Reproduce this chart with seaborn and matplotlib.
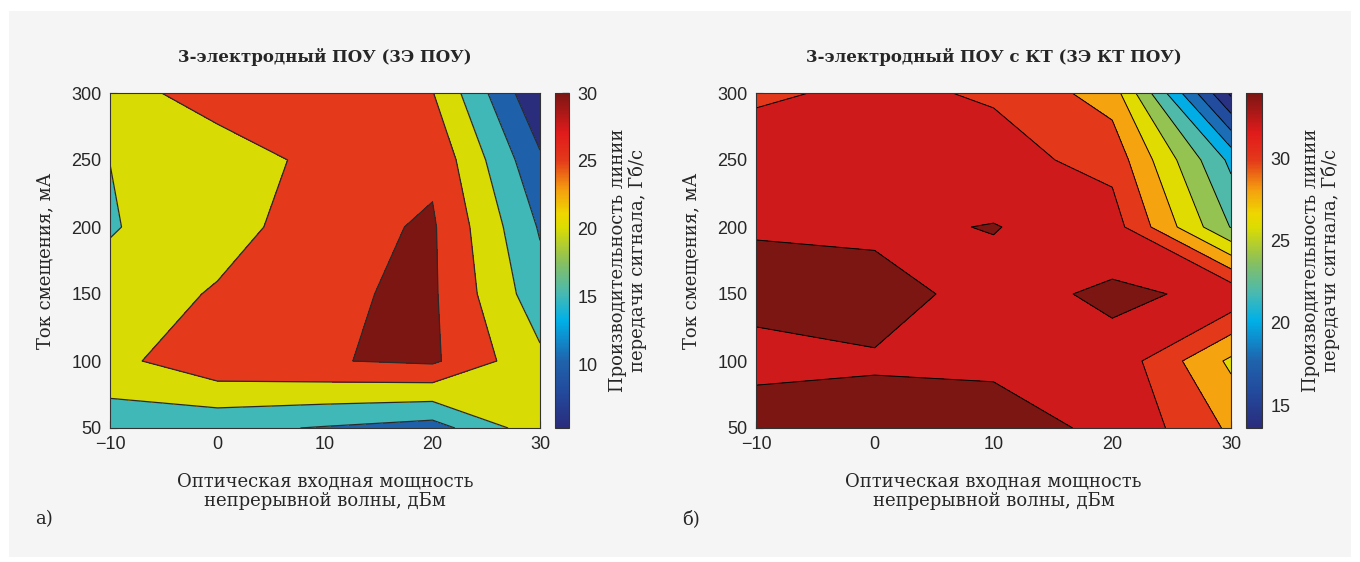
import numpy as np
import matplotlib
matplotlib.use("Agg")
import matplotlib.pyplot as plt
import seaborn as sns
from matplotlib.colors import LinearSegmentedColormap, Normalize
from matplotlib.cm import ScalarMappable
from matplotlib.patches import Rectangle

# grid: optical CW input power (dBm) x bias current (mA)
power_dbm = [-10, 0, 10, 20, 30]
bias_ma = [50, 100, 150, 200, 250, 300]

# line rate, Gb/s (rows = bias current 50..300, cols = power -10..30)
rate_3e = [
    [17.3, 16.25, 14.63, 12.9, 23.0],
    [23.4, 28.75, 29.72, 30.8, 21.1],
    [21.5, 25.6, 29.4, 30.7, 17.0],
    [19.7, 22.5, 28.3, 30.6, 14.5],
    [20.02, 23.5, 25.8, 29.0, 10.8],
    [23.8, 26.3, 27.5, 25.2, 5.4],
]
rate_3e_qd = [
    [34.92, 34.6, 34.2, 33.9, 29.66],
    [33.48, 33.84, 33.91, 33.47, 27.6],
    [34.5, 34.65, 33.39, 34.3, 33.65],
    [33.88, 33.65, 34.08, 32.95, 23.9],
    [33.04, 33.3, 32.7, 31.35, 21.5],
    [31.7, 32.38, 31.8, 29.08, 13.6],
]

levels_3e = [0, 10, 15, 20, 25, 30, 40]
levels_3e_qd = [12, 14, 16, 18, 20, 22, 24, 26, 28, 30, 32, 34, 40]
cbar_lim_3e = (5.3, 30.0)
cbar_lim_3e_qd = (13.6, 34.0)
cbar_ticks_3e = [10, 15, 20, 25, 30]
cbar_ticks_3e_qd = [15, 20, 25, 30]

titles = ["3-электродный ПОУ (3Э ПОУ)", "3-электродный ПОУ с КТ (3Э КТ ПОУ)"]
xlabel = "Оптическая входная мощность\nнепрерывной волны, дБм"
ylabel = "Ток смещения, мА"
cbar_label = "Производительность линии\nпередачи сигнала, Гб/с"

sns.set_theme(style="white")
plt.rcParams["font.family"] = ["DejaVu Serif"]
plt.rcParams["axes.unicode_minus"] = True

cmap = LinearSegmentedColormap.from_list("rate", [
    (0.00, "#2a2c7c"), (0.10, "#23489b"), (0.20, "#1f63ad"),
    (0.32, "#00b0e8"), (0.40, "#47b9b3"), (0.50, "#8cc05a"),
    (0.60, "#dcdc00"), (0.64, "#eed600"), (0.71, "#f5a00f"),
    (0.80, "#e4391a"), (0.88, "#e11b1b"), (1.00, "#7b1613"),
])

W, H = 1360, 562
fig = plt.figure(figsize=(W / 100, H / 100), dpi=100)
fig.patch.set_facecolor("white")
fig.add_artist(Rectangle((9 / W, 1 - 557 / H), 1342 / W, 546 / H,
                         transform=fig.transFigure, facecolor="#f5f5f5",
                         edgecolor="none", zorder=-10))


def box(x0, y0, x1, y1):
    return [x0 / W, 1 - y1 / H, (x1 - x0) / W, (y1 - y0) / H]


tick_font = {"family": "Liberation Sans", "size": 13}


def draw(ax, cax, z, levels, lim, cticks, title, line_color, lw):
    X, Y = np.meshgrid(power_dbm, bias_ma)
    Z = np.array(z)
    norm = Normalize(*lim)
    band_colors = [cmap(np.clip(norm(l), 0, 1)) for l in levels[:-1]]
    ax.contourf(X, Y, Z, levels=levels, colors=band_colors)
    ax.contour(X, Y, Z, levels=levels[1:-1], colors=line_color, linewidths=lw)
    ax.set_xlim(-10, 30)
    ax.set_ylim(50, 300)
    ax.set_xticks([-10, 0, 10, 20, 30])
    ax.set_yticks([50, 100, 150, 200, 250, 300])
    ax.tick_params(direction="in", length=5, width=0.8, color="#222222",
                   bottom=True, left=True, top=False, right=False, pad=6)
    for lab in ax.get_xticklabels() + ax.get_yticklabels():
        lab.set_fontproperties(tick_font)
    for s in ax.spines.values():
        s.set_color("#333333")
        s.set_linewidth(0.8)
    ax.set_title(title, fontsize=12, fontweight="bold", pad=22)
    ax.set_xlabel(xlabel, fontsize=13, labelpad=14, linespacing=1.1)
    ax.set_ylabel(ylabel, fontsize=13, labelpad=12)

    cb = fig.colorbar(ScalarMappable(norm=norm, cmap=cmap), cax=cax)
    cb.set_ticks(cticks)
    cb.outline.set_edgecolor("#333333")
    cb.outline.set_linewidth(0.8)
    cax.tick_params(direction="in", length=5, width=0.9, color="#222222", pad=6)
    for lab in cax.get_yticklabels():
        lab.set_fontproperties(tick_font)
    cb.set_label(cbar_label, fontsize=13, labelpad=8, linespacing=1.1)


ax_a = fig.add_axes(box(110, 93, 540, 428))
cax_a = fig.add_axes(box(555, 93, 569, 428))
ax_b = fig.add_axes(box(756, 93, 1231, 428))
cax_b = fig.add_axes(box(1246, 93, 1262, 428))

draw(ax_a, cax_a, rate_3e, levels_3e, cbar_lim_3e, cbar_ticks_3e,
     titles[0], "#2a2a2a", 0.9)
draw(ax_b, cax_b, rate_3e_qd, levels_3e_qd, cbar_lim_3e_qd, cbar_ticks_3e_qd,
     titles[1], "black", 0.7)

fig.text(35 / W, 1 - 519 / H, "а)", fontsize=13, va="center", ha="left")
fig.text(682 / W, 1 - 519 / H, "б)", fontsize=13, va="center", ha="left")

fig.savefig("out.png", dpi=100)
